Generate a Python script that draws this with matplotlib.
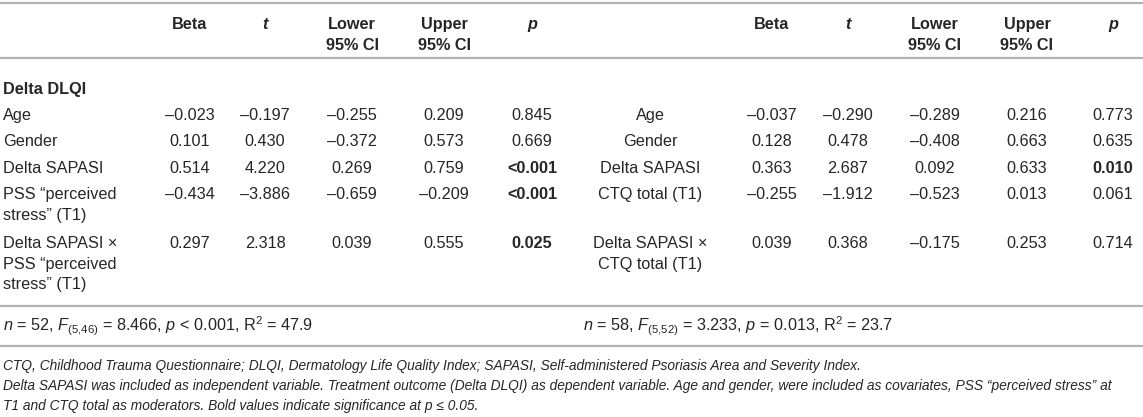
import matplotlib
matplotlib.use("Agg")
import matplotlib.pyplot as plt

plt.rcParams['font.family'] = ['Liberation Sans', 'DejaVu Sans']
plt.rcParams['mathtext.fontset'] = 'custom'
plt.rcParams['mathtext.rm'] = 'Liberation Sans'
plt.rcParams['mathtext.it'] = 'Liberation Sans:italic'
plt.rcParams['mathtext.bf'] = 'Liberation Sans:bold'

# ---- table data ----
headers = ["Beta", "t", "Lower\n95% CI", "Upper\n95% CI", "p"]
header_italic = [False, True, False, False, True]

left_title = "Delta DLQI"
left_labels = ["Age", "Gender", "Delta SAPASI", "PSS “perceived\nstress” (T1)",
               "Delta SAPASI ×\nPSS “perceived\nstress” (T1)"]
left_beta = [-0.023, 0.101, 0.514, -0.434, 0.297]
left_t = [-0.197, 0.430, 4.220, -3.886, 2.318]
left_lower = [-0.255, -0.372, 0.269, -0.659, 0.039]
left_upper = [0.209, 0.573, 0.759, -0.209, 0.555]
left_p = ["0.845", "0.669", "<0.001", "<0.001", "0.025"]
left_stats = r"$n$ = 52, $F_{(5{,}46)}$ = 8.466, $p$ < 0.001, R$^2$ = 47.9"

right_labels = ["Age", "Gender", "Delta SAPASI", "CTQ total (T1)",
                "Delta SAPASI ×\nCTQ total (T1)"]
right_beta = [-0.037, 0.128, 0.363, -0.255, 0.039]
right_t = [-0.290, 0.478, 2.687, -1.912, 0.368]
right_lower = [-0.289, -0.408, 0.092, -0.523, -0.175]
right_upper = [0.216, 0.663, 0.633, 0.013, 0.253]
right_p = ["0.773", "0.635", "0.010", "0.061", "0.714"]
right_stats = r"$n$ = 58, $F_{(5{,}52)}$ = 3.233, $p$ = 0.013, R$^2$ = 23.7"

footnotes = [
    "CTQ, Childhood Trauma Questionnaire; DLQI, Dermatology Life Quality Index; "
    "SAPASI, Self-administered Psoriasis Area and Severity Index.",
    "Delta SAPASI was included as independent variable. Treatment outcome (Delta DLQI) "
    "as dependent variable. Age and gender, were included as covariates, PSS “perceived stress” at",
    "T1 and CTQ total as moderators. Bold values indicate significance at p ≤ 0.05.",
]

# ---- layout (pixel coordinates) ----
W, H = 1143, 417
TXT = "#262626"
RULE = "#b4b4b4"
FS = 11.7
col_x_left = [190, 265, 352, 444, 532]
col_x_right = [772, 848, 935, 1027, 1113]
label_x_left = 3
label_x_right = 650
row_y = [115, 141.5, 168, 194, 243]
line_gap = 21


def fmt(v):
    return f"{v:.3f}".replace("-", "–")


def is_sig(s):
    return float(s.lstrip("<")) <= 0.05


fig = plt.figure(figsize=(W / 100, H / 100), dpi=100)
ax = fig.add_axes([0, 0, 1, 1])
ax.set_xlim(0, W)
ax.set_ylim(H, 0)
ax.axis("off")

for y in [3, 58, 306, 346]:
    ax.axhline(y, color=RULE, lw=1.6)


def draw_half(col_x, label_x, label_ha, labels, cols, pvals, stats, stats_x):
    for x, h, it in zip(col_x, headers, header_italic):
        for i, part in enumerate(h.split("\n")):
            ax.text(x, 24 + i * 21, part, ha="center", va="center", fontsize=FS,
                    fontweight="bold", style="italic" if it else "normal", color=TXT)
    for r, y in enumerate(row_y):
        for i, part in enumerate(labels[r].split("\n")):
            ax.text(label_x, y + i * line_gap, part, ha=label_ha, va="center",
                    fontsize=FS, color=TXT)
        for x, c in zip(col_x[:4], cols):
            ax.text(x, y, fmt(c[r]), ha="center", va="center", fontsize=FS, color=TXT)
        ax.text(col_x[4], y, pvals[r], ha="center", va="center", fontsize=FS,
                color=TXT, fontweight="bold" if is_sig(pvals[r]) else "normal")
    ax.text(stats_x, 326, stats, ha="left", va="center", fontsize=FS, color=TXT)


ax.text(3, 89, left_title, ha="left", va="center", fontsize=FS, fontweight="bold", color=TXT)
draw_half(col_x_left, label_x_left, "left", left_labels,
          [left_beta, left_t, left_lower, left_upper], left_p, left_stats, 3)
draw_half(col_x_right, label_x_right, "center", right_labels,
          [right_beta, right_t, right_lower, right_upper], right_p, right_stats, 583)

for i, note in enumerate(footnotes):
    ax.text(3, 366 + i * 20, note, ha="left", va="center", fontsize=9.9,
            style="italic", color=TXT)

fig.savefig("out.png", dpi=100)
